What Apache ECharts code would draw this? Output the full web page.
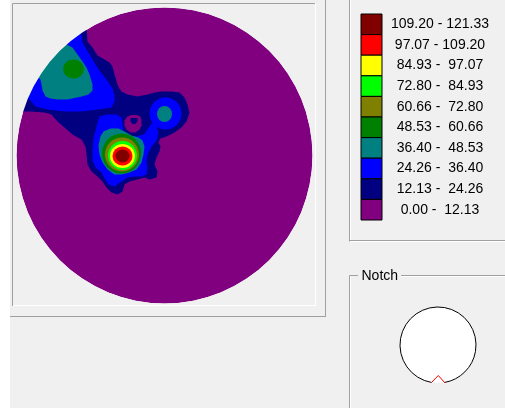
<!DOCTYPE html>
<html><head><meta charset="utf-8">
<script src="https://cdn.jsdelivr.net/npm/echarts@6/dist/echarts.min.js"></script>
<style>html,body{margin:0;padding:0;background:#f0f0f0;}#c{width:505px;height:408px;}</style>
</head><body><div id="c"></div>
<script>
// ---- legend / level data ----
const levelBreaks = [0.00, 12.13, 24.26, 36.40, 48.53, 60.66, 72.80, 84.93, 97.07, 109.20, 121.33];
const levelColors = ['#800080','#000080','#0000ff','#008080','#008000','#808000','#00ff00','#ffff00','#ff0000','#800000'];
const legendLabels = ['109.20 - 121.33','97.07 - 109.20','84.93 -  97.07','72.80 -  84.93','60.66 -  72.80',
                      '48.53 -  60.66','36.40 -  48.53','24.26 -  36.40','12.13 -  24.26','0.00 -  12.13'];

// ---- wafer geometry (mm, wafer centre = 0,0) ----
const waferRadius = 148;
const maskRadius = 154;

// ---- contour regions (mm) ----
const navyEnvelope = [[-78,128],[-77,114],[-72,108],[-67,100],[-60,96],[-55,93],[-52,89],[-50,81],[-47,71],[-45,67],[-43,64],
 [-37,61],[-27,59],[-17,61],[-10,63],[-3,64],[7,64],[15,63],[20,58],[23,51],[25,43],[22,34],[17,28],[10,23],[2,19],[-4,17],
 [-6,13],[-4,9],[-5,4],[-8,-2],[-10,-9],[-7,-16],[-8,-22],[-15,-24],[-20,-22],[-27,-24],[-35,-26],[-40,-29],[-42,-36],[-47,-39],
 [-53,-37],[-58,-32],[-62,-26],[-67,-21],[-73,-16],[-77,-9],[-78,1],[-79,9],[-83,16],[-92,21],[-100,28],[-107,34],[-113,41],
 [-120,43],[-134,44],[-145,44],[-141,55],[-135,67],[-128,79],[-119,91],[-109,103],[-98,113],[-88,121]];
const blueLobe = [[-86,124],[-83,120],[-82,113],[-78,106],[-73,98],[-67,88],[-62,81],[-56,73],[-52,67],[-50,60],[-50,54],[-53,48],
 [-67,46],[-83,44],[-100,44],[-117,46],[-129,49],[-136,57],[-139,59],[-135,67],[-128,79],[-119,91],[-109,103],[-98,113],[-88,122]];
const tealLobe = [[-101,111],[-98,111],[-92,108],[-87,101],[-82,94],[-78,88],[-75,81],[-72,71],[-72,65],[-76,61],[-83,59],[-97,56],
 [-107,56],[-114,57],[-119,59],[-122,65],[-123,71],[-124,76],[-128,79],[-124,87],[-117,97],[-108,105]];
const greenLobe = [-91, 86.5, 10.5, 9.5];          // ellipse: cx, cy, rx, ry
const blueRing = [1, 42, 16, 16];
const tealSpot = [0, 41.5, 7.5, 8];
const blueBridge = [[-12,33],[-8,29],[-6,23],[-8,15],[-14,9],[-18,15],[-18,25]];
const blueMain = [[-65,39],[-58,41],[-48,41],[-43,38],[-42,31],[-41,24],[-36,20],[-28,19],[-21,21],[-17,25],[-12,27],[-8,25],[-7,19],
 [-9,14],[-13,9],[-17,1],[-18,-6],[-17,-12],[-18,-19],[-23,-21],[-30,-21],[-37,-22],[-43,-26],[-50,-31],[-56,-29],[-60,-23],
 [-63,-17],[-69,-12],[-72,-5],[-72,5],[-71,17],[-69,25],[-67,33]];
const tealMain = [[-61,24],[-54,27],[-46,27],[-40,24],[-33,20],[-26,18],[-22,15],[-20,9],[-21,1],[-23,-7],[-28,-14],[-35,-17],
 [-43,-19],[-50,-19],[-57,-14],[-62,-7],[-65,1],[-66,10],[-64,19]];
const greenMain  = [-43, 2, 19.5, 20];
const oliveMain  = [-42.5, 1, 17, 17];
const limeMain   = [-42, 0, 14.5, 14.5];
const yellowMain = [-42, -0.5, 12.5, 12];
const redMain    = [-42, -0.5, 10, 9.5];
const maroonMain = [-42, -0.5, 7, 6.5];
const purpleHole = [[-37,39],[-33,40.5],[-28,40.5],[-24,39],[-23,35],[-23,30],[-25,26],[-29,23],[-34,23],[-38,26],[-40,30],[-40,35]];
const navyNotch = [[-34,37.5],[-27,37.5],[-27,34],[-29,31.5],[-32,31.5],[-34,34]];

// draw order: [level, region]
const drawOrder = [
  [1, navyEnvelope], [2, blueLobe], [3, tealLobe], [4, greenLobe],
  [2, blueRing], [2, blueBridge], [2, blueMain], [3, tealSpot], [3, tealMain],
  [4, greenMain], [5, oliveMain], [6, limeMain], [7, yellowMain], [8, redMain], [9, maroonMain],
  [0, purpleHole], [1, navyNotch]
];

const chart = echarts.init(document.getElementById('c'), null, {renderer: 'canvas'});

function renderItem(params, api) {
  const i = params.dataIndex;
  const c0 = api.coord([0, 0]);
  if (i === 0) {
    const r = api.size([waferRadius, 0])[0];
    return {type: 'circle', shape: {cx: c0[0], cy: c0[1], r: r}, style: {fill: levelColors[0]}};
  }
  if (i === drawOrder.length + 1) {
    const r0 = api.size([waferRadius, 0])[0];
    const r = api.size([maskRadius, 0])[0];
    return {type: 'ring', shape: {cx: c0[0], cy: c0[1], r: r, r0: r0}, style: {fill: '#f0f0f0'}};
  }
  const item = drawOrder[i - 1];
  const fill = levelColors[item[0]];
  const reg = item[1];
  if (typeof reg[0] === 'number') {
    const c = api.coord([reg[0], reg[1]]);
    const s = api.size([reg[2], reg[3]]);
    return {type: 'circle', x: c[0], y: c[1], scaleX: s[0], scaleY: s[1], shape: {cx: 0, cy: 0, r: 1}, style: {fill: fill}};
  }
  return {type: 'polygon', shape: {points: reg.map(p => api.coord(p))}, style: {fill: fill}};
}

const seriesData = [];
for (let k = 0; k < drawOrder.length + 2; k++) seriesData.push([0, 0]);

// legend + chrome graphics
const gfx = [];
const Z = 100;
function line(x1, y1, x2, y2, color) {
  gfx.push({type: 'line', z: Z, shape: {x1, y1, x2, y2}, style: {stroke: color, lineWidth: 1}, silent: true});
}
gfx.push({type: 'rect', z: Z, shape: {x: 0, y: 0, width: 10, height: 408}, style: {fill: '#ffffff'}, silent: true});
// left panel frames
line(12.5, 3.5, 315, 3.5, '#a0a0a0');
line(12.5, 3.5, 12.5, 306, '#a0a0a0');
line(13, 305.5, 315.5, 305.5, '#ffffff');
line(315.5, 3, 315.5, 306, '#ffffff');
line(10, 316.5, 325.5, 316.5, '#a0a0a0');
line(325.5, 0, 325.5, 317, '#a0a0a0');
// legend group box
line(349.5, 0, 349.5, 241.5, '#a0a0a0');
line(350.5, 0, 350.5, 241, '#ffffff');
line(349.5, 240.5, 505, 240.5, '#a0a0a0');
line(350.5, 241.5, 505, 241.5, '#ffffff');
// legend boxes
const boxH = 20.6;
legendLabels.forEach((lab, i) => {
  const y = 14 + i * boxH;
  gfx.push({type: 'rect', z: Z, shape: {x: 361, y: y, width: 21, height: boxH},
    style: {fill: levelColors[9 - i], stroke: '#000000', lineWidth: 1}, silent: true});
  gfx.push({type: 'text', z: Z, x: 440, y: y + boxH / 2,
    style: {text: lab, fill: '#000000', font: '14px "Liberation Sans", Arial, sans-serif', align: 'center', verticalAlign: 'middle'}, silent: true});
});
// notch group box
line(349.5, 275.5, 358, 275.5, '#a0a0a0');
line(401, 275.5, 505, 275.5, '#a0a0a0');
line(349.5, 275.5, 349.5, 408, '#a0a0a0');
line(350.5, 276.5, 350.5, 408, '#ffffff');
line(401, 276.5, 505, 276.5, '#ffffff');
gfx.push({type: 'text', z: Z, x: 361.5, y: 276.5,
  style: {text: 'Notch', fill: '#000000', font: '14px "Liberation Sans", Arial, sans-serif', align: 'left', verticalAlign: 'middle'}, silent: true});
gfx.push({type: 'circle', z: Z, shape: {cx: 438, cy: 345, r: 38}, style: {fill: '#ffffff'}, silent: true});
gfx.push({type: 'arc', z: Z, shape: {cx: 438, cy: 345, r: 38, startAngle: Math.PI / 2 + 0.172, endAngle: Math.PI / 2 - 0.172 + 2 * Math.PI, clockwise: true},
  style: {stroke: '#000000', lineWidth: 1, fill: null}, silent: true});
gfx.push({type: 'polyline', z: Z, shape: {points: [[431.5, 382.5], [438.3, 375.5], [445, 383]]}, style: {stroke: '#ff0000', lineWidth: 1, fill: null}, silent: true});

chart.setOption({
  animation: false,
  backgroundColor: '#f0f0f0',
  grid: {left: 14.5, top: 5.5, width: 300, height: 300, show: false},
  xAxis: {type: 'value', min: -150, max: 150, show: false},
  yAxis: {type: 'value', min: -150, max: 150, show: false},
  series: [{type: 'custom', coordinateSystem: 'cartesian2d', clip: false, silent: true,
    renderItem: renderItem, data: seriesData}],
  graphic: {elements: gfx}
});
</script></body></html>
